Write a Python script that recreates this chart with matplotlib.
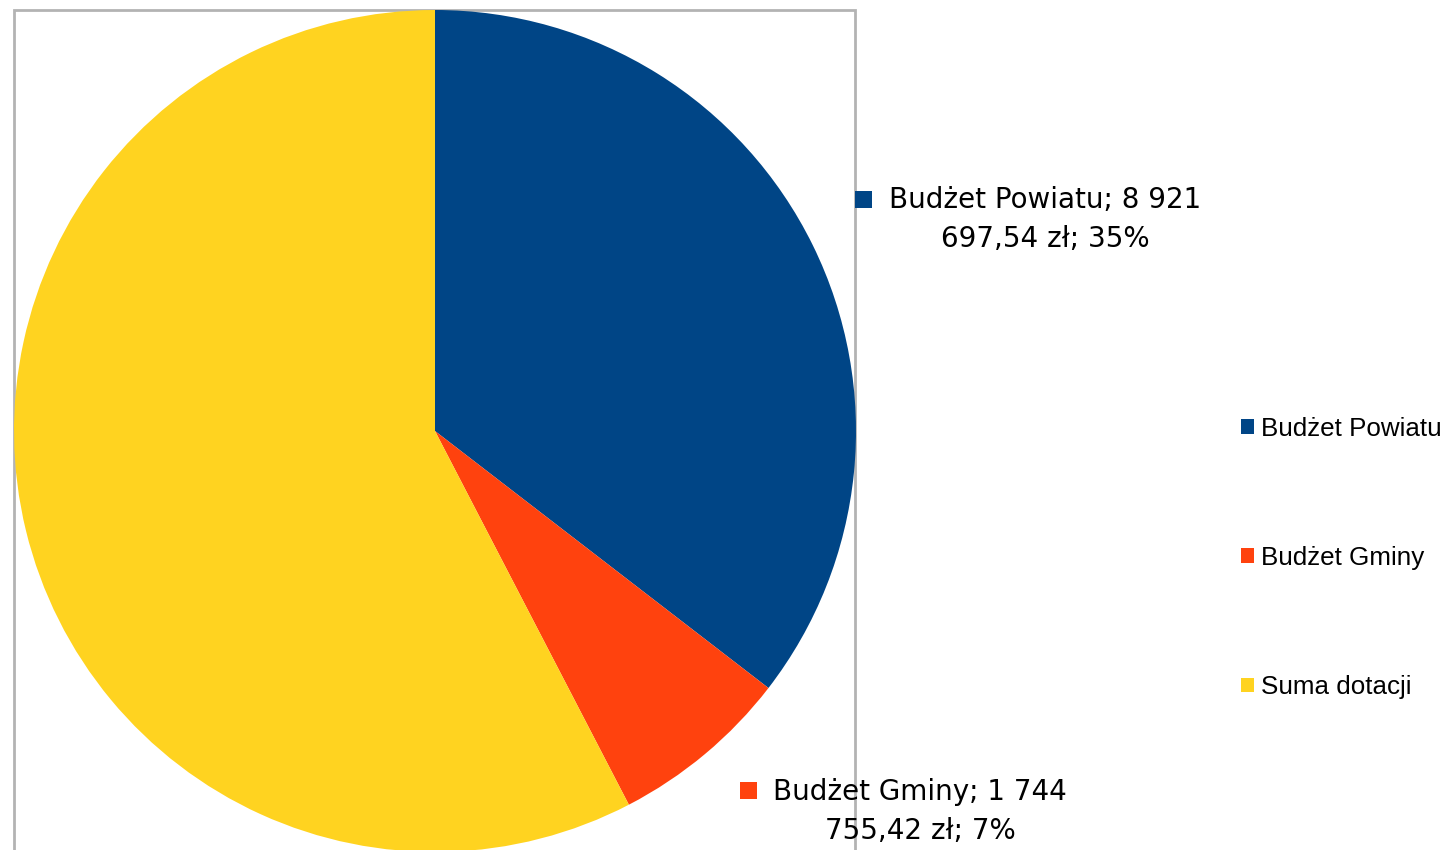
import matplotlib.pyplot as plt
from matplotlib.patches import Rectangle, Patch

# Data
categories = ['Budżet Powiatu', 'Budżet Gminy', 'Suma dotacji']
values = [8921697.54, 1744755.42, 14500000.00]
colors = ['#004586', '#FF420E', '#FFD320']
shown_labels = [True, True, False]


def fmt_pln(v):
    s = f"{v:,.2f}"
    return s.replace(",", " ").replace(".", ",") + " zł"


fig = plt.figure(figsize=(14.5, 8.5), dpi=100)
ax = fig.add_axes([0, 0, 1, 1])
ax.set_xlim(0, 1450)
ax.set_ylim(0, 850)
ax.set_aspect('equal')
ax.axis('off')

# plot area frame
ax.add_patch(Rectangle((14, -20), 841, 860, fill=False, edgecolor='#b3b3b3', lw=2))

wedges, _ = ax.pie(values, colors=colors, startangle=90, counterclock=False,
                   center=(435, 419), radius=421,
                   wedgeprops=dict(linewidth=0))
ax.set_xlim(0, 1450)
ax.set_ylim(0, 850)

total = sum(values)
label_pos = {0: (1045, 631), 1: (920, 39)}
marker_pos = {0: (855, 642), 1: (740, 51)}
for i, (cat, v) in enumerate(zip(categories, values)):
    if not shown_labels[i]:
        continue
    pct = round(100 * v / total)
    parts = fmt_pln(v).split(" ")
    line1 = f"{cat}; {parts[0]} {parts[1]}"
    line2 = f"{' '.join(parts[2:])}; {pct}%"
    x, y = label_pos[i]
    ax.text(x, y, line1 + "\n" + line2, ha='center', va='center',
            fontsize=20, family='DejaVu Sans', linespacing=1.5, color='black')
    mx, my = marker_pos[i]
    ax.add_patch(Rectangle((mx, my), 17, 17, facecolor=colors[i], edgecolor='none'))

handles = [Patch(facecolor=c, edgecolor='none') for c in colors]
ax.legend(handles, categories, loc='center left',
          bbox_to_anchor=(1228 / 1450, 292 / 850),
          frameon=False, prop={'family': 'Liberation Sans', 'size': 18.7},
          handlelength=0.5, handleheight=0.5, handletextpad=0.27,
          labelspacing=4.05, borderpad=0)

fig.savefig('out.png', dpi=100)
